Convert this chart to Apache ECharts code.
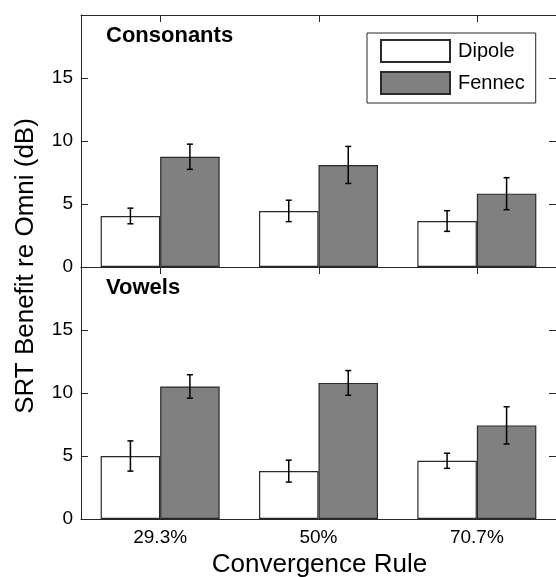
<!DOCTYPE html>
<html>
<head>
<meta charset="utf-8">
<script src="https://cdn.jsdelivr.net/npm/echarts@6/dist/echarts.min.js"></script>
<style>
html,body{margin:0;padding:0;background:#fff;}
#chart{width:556px;height:577px;}
</style>
</head>
<body>
<div id="chart"></div>
<script>
// ---- data ----
const categories = ['29.3%', '50%', '70.7%'];
const seriesNames = ['Dipole', 'Fennec'];
const panelTitles = ['Consonants', 'Vowels'];
const yTicks = [0, 5, 10, 15, 20];

const consDipole    = [4.05, 4.45, 3.65];
const consDipoleErr = [0.62, 0.85, 0.82];
const consFennec    = [8.75, 8.10, 5.82];
const consFennecErr = [1.00, 1.47, 1.27];

const vowDipole    = [5.00, 3.80, 4.62];
const vowDipoleErr = [1.20, 0.87, 0.60];
const vowFennec    = [10.52, 10.80, 7.43];
const vowFennecErr = [0.93, 0.98, 1.48];

const xTitle = 'Convergence Rule';
const yTitle = 'SRT Benefit re Omni (dB)';

// ---- style ----
const FONT = '"Liberation Sans", Arial, sans-serif';
const AX = '#262626';
const BAR_W = 59.5;
const TICK_LEN = 7;
const fills = ['#ffffff', '#808080'];
const Y_MAX = yTicks[yTicks.length - 1];

const chart = echarts.init(document.getElementById('chart'), null, {renderer: 'canvas'});

const grids = [
  {left: 81, top: 15, width: 477, height: 252},
  {left: 81, top: 267, width: 477, height: 252}
];

function xAx(gi, pos, labels) {
  return {
    type: 'category', gridIndex: gi, position: pos, data: categories,
    axisLine: {show: true, onZero: false, lineStyle: {color: AX, width: 1}},
    axisTick: {show: false},
    axisLabel: {show: labels, interval: 0, fontFamily: FONT, fontSize: 19, color: '#000', margin: 9},
    splitLine: {show: false}
  };
}
function yAx(gi, pos, labels) {
  return {
    type: 'value', gridIndex: gi, position: pos,
    min: yTicks[0], max: Y_MAX, interval: yTicks[1] - yTicks[0],
    axisLine: {show: true, onZero: false, lineStyle: {color: AX, width: 1}},
    axisTick: {show: true, inside: true, length: TICK_LEN, lineStyle: {color: AX}},
    axisLabel: {show: labels, showMaxLabel: false, fontFamily: FONT, fontSize: 19, color: '#000', margin: 8},
    splitLine: {show: false}
  };
}

function barSeries(name, data, gi, idx) {
  return {
    type: 'bar', name: name, data: data,
    xAxisIndex: gi * 2, yAxisIndex: gi * 2,
    barWidth: BAR_W, barGap: '0%',
    itemStyle: {color: fills[idx], borderColor: '#2a2a2a', borderWidth: 1.2},
    emphasis: {disabled: true},
    z: 2
  };
}
function errSeries(vals, errs, gi, idx) {
  const off = (idx === 0 ? -1 : 1) * BAR_W / 2;
  return {
    type: 'custom',
    xAxisIndex: gi * 2, yAxisIndex: gi * 2,
    data: vals.map((v, i) => [i, v, errs[i]]),
    encode: {x: 0, y: 1},
    z: 5,
    silent: true,
    renderItem: function (params, api) {
      const i = api.value(0), v = api.value(1), e = api.value(2);
      const hi = api.coord([i, v + e]);
      const lo = api.coord([i, v - e]);
      const x = hi[0] + off;
      const cap = 3;
      const st = {stroke: '#000', lineWidth: 1.5};
      return {
        type: 'group',
        children: [
          {type: 'line', shape: {x1: x, y1: hi[1], x2: x, y2: lo[1]}, style: st},
          {type: 'line', shape: {x1: x - cap, y1: hi[1], x2: x + cap, y2: hi[1]}, style: st},
          {type: 'line', shape: {x1: x - cap, y1: lo[1], x2: x + cap, y2: lo[1]}, style: st}
        ]
      };
    }
  };
}
// inward tick marks on the top frame edge, at the category centres
function topTickSeries(gi) {
  return {
    type: 'custom',
    xAxisIndex: gi * 2, yAxisIndex: gi * 2,
    data: categories.map((c, i) => [i, Y_MAX]),
    encode: {x: 0, y: 1},
    z: 6, silent: true, clip: false,
    renderItem: function (params, api) {
      const p = api.coord([api.value(0), api.value(1)]);
      const x = Math.round(p[0]) + 0.5;
      return {type: 'line', shape: {x1: x, y1: p[1], x2: x, y2: p[1] + TICK_LEN},
              style: {stroke: AX, lineWidth: 1}};
    }
  };
}

const option = {
  backgroundColor: '#fff',
  animation: false,
  grid: grids,
  xAxis: [xAx(0, 'bottom', false), xAx(0, 'top', false), xAx(1, 'bottom', true), xAx(1, 'top', false)],
  yAxis: [yAx(0, 'left', true), yAx(0, 'right', false), yAx(1, 'left', true), yAx(1, 'right', false)],
  legend: {
    data: seriesNames,
    orient: 'vertical',
    left: 367, top: 33,
    icon: 'rect',
    itemWidth: 69, itemHeight: 22, itemGap: 8,
    padding: [6, 11, 8, 13],
    borderColor: '#262626', borderWidth: 1,
    backgroundColor: '#fff',
    textStyle: {fontFamily: FONT, fontSize: 20, color: '#000', padding: [0, 0, 0, 3]},
    selectedMode: false
  },
  graphic: [
    {type: 'text', left: 106, top: 25, style: {text: panelTitles[0], font: 'bold 22px ' + FONT, fill: '#000'}},
    {type: 'text', left: 106, top: 277, style: {text: panelTitles[1], font: 'bold 22px ' + FONT, fill: '#000'}},
    {type: 'text', x: 26, y: 266, rotation: Math.PI / 2,
     style: {text: yTitle, font: '26px ' + FONT, fill: '#000', align: 'center', verticalAlign: 'middle'}},
    {type: 'text', x: 319.5, y: 565,
     style: {text: xTitle, font: '26px ' + FONT, fill: '#000', align: 'center', verticalAlign: 'middle'}}
  ],
  series: [
    barSeries(seriesNames[0], consDipole, 0, 0),
    barSeries(seriesNames[1], consFennec, 0, 1),
    barSeries(seriesNames[0], vowDipole, 1, 0),
    barSeries(seriesNames[1], vowFennec, 1, 1),
    errSeries(consDipole, consDipoleErr, 0, 0),
    errSeries(consFennec, consFennecErr, 0, 1),
    errSeries(vowDipole, vowDipoleErr, 1, 0),
    errSeries(vowFennec, vowFennecErr, 1, 1),
    topTickSeries(0),
    topTickSeries(1)
  ]
};
chart.setOption(option);
</script>
</body>
</html>
